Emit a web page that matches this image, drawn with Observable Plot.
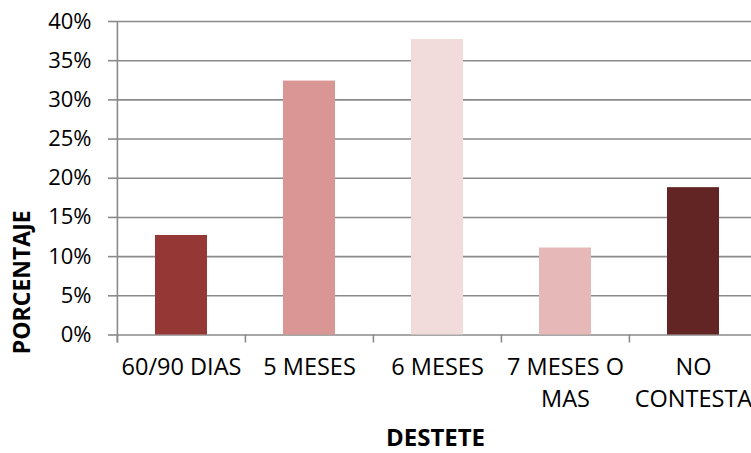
<!DOCTYPE html>
<html><head><meta charset="utf-8">
<script src="https://cdn.jsdelivr.net/npm/d3@7"></script>
<script src="https://cdn.jsdelivr.net/npm/@observablehq/plot@0.6"></script>
<style>body{margin:0;background:#fff} #chart{width:751px;height:453px;overflow:hidden}</style>
</head><body><div id="chart"></div>
<script>
const categories = ["60/90 DIAS", "5 MESES", "6 MESES", "7 MESES O MAS", "NO CONTESTA"];
const tickLabels = ["60/90 DIAS", "5 MESES", "6 MESES", "7 MESES O\nMAS", "NO\nCONTESTA"];
const values = [0.127, 0.324, 0.377, 0.111, 0.188];
const colors = ["#953735", "#D99694", "#F2DCDB", "#E6B9B8", "#632523"];
const yTicks = [0, 0.05, 0.10, 0.15, 0.20, 0.25, 0.30, 0.35, 0.40];
const yTitle = "PORCENTAJE";
const xTitle = "DESTETE";

const W = 751, H = 453;
const xRange = [117, 758];
const step = (xRange[1] - xRange[0]) / categories.length;
const data = categories.map((c, i) => ({cat: c, value: values[i]}));
const gray = "#8a8a8a";
const font = "Open Sans";

const chart = Plot.plot({
  width: W, height: H,
  marginLeft: 117, marginRight: 0, marginTop: 21, marginBottom: 118.5,
  x: {domain: categories, range: xRange, paddingInner: 0.59, paddingOuter: 0.295, align: 0.5},
  y: {domain: [0, 0.4]},
  color: {domain: categories, range: colors},
  style: {fontFamily: font, fontSize: "22px", color: "#000", background: "#fff", overflow: "visible"},
  marks: [
    Plot.ruleY(yTicks, {stroke: gray, strokeWidth: 1.6}),
    Plot.axisY({ticks: yTicks, tickSize: 9, tickPadding: 17, tickFormat: d => Math.round(d * 100) + "%",
      stroke: gray, strokeWidth: 1.6, strokeOpacity: 1, fontSize: 22, fill: "#000", label: null}),
    Plot.barY(data, {x: "cat", y: "value", fill: "cat"}),
    Plot.ruleX([categories[0]], {x: d => d, y1: 0.4, y2: 0, dx: -step / 2, insetBottom: -8, stroke: gray, strokeWidth: 1.6}),
    Plot.ruleX(categories, {x: d => d, y1: 0, y2: 0, dx: -step / 2, insetBottom: -8, stroke: gray, strokeWidth: 1.6}),
    Plot.axisX({tickSize: 0, tickPadding: 17, tickFormat: (d, i) => tickLabels[categories.indexOf(d)],
      lineHeight: 1.38, fontSize: 23.5, fill: "#000", label: null}),
    Plot.text([xTitle], {frameAnchor: "bottom", x: () => categories[2], dx: -2, dy: 111, text: d => d, fontWeight: "bold", fontSize: 24, fill: "#000"}),
    Plot.text([yTitle], {frameAnchor: "left", dx: -95, dy: 104, rotate: -90, textAnchor: "middle", text: d => d, fontWeight: "bold", fontSize: 23, fill: "#000"})
  ]
});
document.getElementById("chart").appendChild(chart);
</script></body></html>
